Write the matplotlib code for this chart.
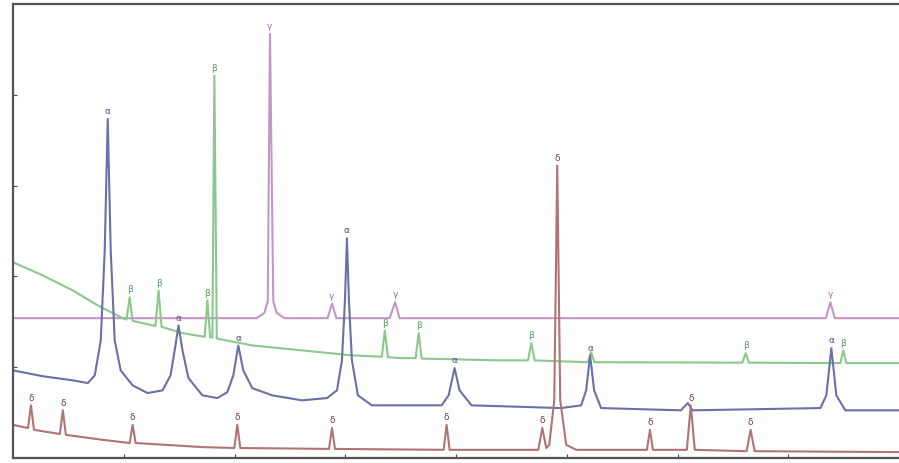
import matplotlib
matplotlib.use("Agg")
import matplotlib.pyplot as plt

# 2-theta (deg) and intensity (a.u.)
magenta_x = [10.0, 32.0, 32.7, 33.0, 33.2, 33.5, 33.8, 34.5, 38.4, 38.8, 39.2,
             44.0, 44.5, 44.9, 83.4, 83.8, 84.2, 90.0]
magenta_y = [308, 308, 320, 345, 934, 345, 320, 308, 308, 340, 308,
             308, 343, 308, 308, 343, 308, 308]

green_x = [10.0, 12.7, 15.4, 17.65, 19.9, 20.25, 20.53, 20.8, 22.6, 22.86, 23.14, 23.41,
           25.3, 27.3, 27.55, 27.8, 28.0, 28.18, 28.4, 31.6, 36.1, 40.6, 43.3, 43.57, 43.85,
           45.1, 46.35, 46.63, 46.9, 54.1, 56.5, 56.8, 57.1, 61.9, 62.2, 62.5,
           75.85, 76.15, 76.45, 84.7, 84.97, 85.25, 90.0]
green_y = [431, 402, 369, 336, 308, 305, 354, 302, 292, 291, 369, 289,
           275, 267, 347, 266, 265, 842, 263, 248, 237, 226, 223, 281, 222,
           220, 220, 275, 219, 215, 215, 253, 215, 211, 233, 211,
           210, 231, 210, 209, 237, 209, 209]

blue_x = [10.0, 12.7, 15.4, 16.75, 17.38, 17.92, 18.28, 18.55, 18.82, 19.18, 19.72, 20.8,
          22.15, 23.5, 24.22, 24.67, 24.94, 25.3, 25.84, 27.1, 28.45, 29.35, 29.89, 30.34,
          30.79, 31.6, 33.4, 36.1, 38.35, 39.25, 39.7, 39.97, 40.15, 40.33, 40.6, 41.14,
          42.4, 48.7, 49.33, 49.87, 50.32, 51.4, 59.5, 61.3, 61.75, 62.11, 62.47, 63.1,
          70.3, 70.93, 71.38, 82.9, 83.44, 83.89, 84.34, 85.15, 90.0]
blue_y = [193, 180, 171, 165, 182, 259, 457, 747, 457, 259, 193, 160,
          143, 149, 182, 248, 292, 237, 176, 138, 132, 145, 182, 248,
          193, 154, 138, 127, 132, 149, 215, 347, 484, 347, 215, 138,
          116, 116, 138, 198, 149, 116, 110, 116, 149, 226, 149, 110,
          105, 121, 105, 110, 138, 242, 138, 105, 105]

brown_x = [10.0, 11.35, 11.62, 11.89, 14.23, 14.5, 14.77, 18.1, 20.53, 20.8, 21.07, 27.1,
           29.98, 30.25, 30.52, 38.53, 38.8, 39.07, 48.88, 49.15, 49.42, 57.43, 57.79, 58.15,
           58.42, 58.87, 59.14, 59.41, 59.95, 60.85, 67.24, 67.51, 67.78, 70.84, 71.2, 71.56,
           76.24, 76.6, 76.96, 90.0]
brown_y = [73, 66, 116, 62, 53, 105, 51, 40, 33, 73, 33, 24,
           22, 73, 22, 20, 66, 20, 18, 73, 18, 18, 66, 22,
           29, 127, 644, 127, 29, 18, 18, 62, 18, 18, 116, 18,
           15, 62, 15, 13]

# peak labels: (2-theta, peak top, text)
magenta_peaks = [(33.2, 934, "γ"), (38.8, 340, "γ"), (44.5, 343, "γ"), (83.8, 343, "γ")]
green_peaks = [(20.53, 354, "β"), (23.14, 369, "β"), (27.55, 347, "β"), (28.18, 842, "β"),
               (43.57, 281, "β"), (46.63, 275, "β"), (56.8, 253, "β"), (76.15, 231, "β"),
               (84.97, 237, "β")]
blue_peaks = [(18.55, 747, "α"), (24.94, 292, "α"), (30.34, 248, "α"), (40.15, 484, "α"),
              (49.87, 198, "α"), (62.11, 226, "α"), (83.89, 242, "α")]
brown_peaks = [(11.62, 116, "δ"), (14.5, 105, "δ"), (20.8, 73, "δ"), (30.25, 73, "δ"),
               (38.8, 66, "δ"), (49.15, 73, "δ"), (57.79, 66, "δ"), (59.14, 644, "δ"),
               (67.51, 62, "δ"), (71.2, 116, "δ"), (76.6, 62, "δ")]

series = [
    (magenta_x, magenta_y, magenta_peaks, "#c496c8", "#a070a8"),
    (green_x, green_y, green_peaks, "#8cc88c", "#5e9a64"),
    (blue_x, blue_y, blue_peaks, "#6a70a8", "#4a4f80"),
    (brown_x, brown_y, brown_peaks, "#b07474", "#7a4040"),
]

fig = plt.figure(figsize=(8.99, 4.63), dpi=100)
ax = fig.add_axes([0.0145, 0.0108, 0.9855, 0.9806])

for xs, ys, peaks, col, lab_col in series:
    ax.plot(xs, ys, color=col, lw=1.5, solid_joinstyle="round")
    for px, py, txt in peaks:
        ax.annotate(txt, (px, py), xytext=(0, 2), textcoords="offset points",
                    ha="center", va="bottom", fontsize=6.5, color=lab_col)

ax.set_xlim(10, 90)
ax.set_ylim(0, 1000)
ax.set_xticks(range(10, 91, 10))
ax.set_yticks(range(0, 1001, 200))
ax.tick_params(direction="in", length=3, labelleft=False, labelbottom=False, color="#444444")
for side in ["left", "bottom", "top"]:
    ax.spines[side].set_color("#555555")
    ax.spines[side].set_linewidth(1.6)
ax.spines["right"].set_visible(False)

fig.savefig("out.png", dpi=100)
